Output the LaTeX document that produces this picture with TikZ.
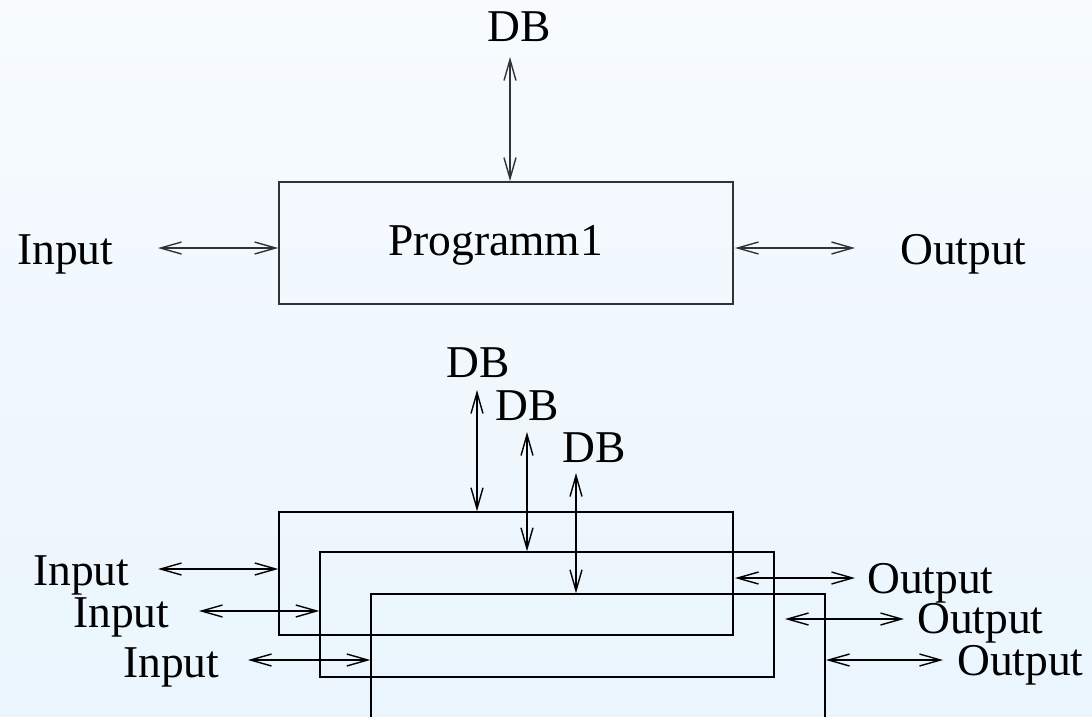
\documentclass[tikz,border=0pt]{standalone}
\usepackage{fontspec}
\setmainfont{Liberation Serif}
\usetikzlibrary{arrows.meta}
\definecolor{bgtop}{HTML}{F7FBFE}
\definecolor{bgbot}{HTML}{EAF5FD}
\definecolor{boxgrey}{HTML}{333333}
\tikzset{
  lbl/.style={anchor=base west, inner sep=0pt, font=\fontsize{45.5}{55}\selectfont},
  bigbox/.style={draw=boxgrey, line width=1.7pt, minimum width=454pt, minimum height=122pt, inner sep=0pt},
  smallbox/.style={draw=black, line width=1.4pt, minimum width=454pt, inner sep=0pt},
  dbl/.style={line width=1.4pt, {Straight Barb[length=21pt,width=12pt]}-{Straight Barb[length=21pt,width=12pt]}},
}
\begin{document}
\begin{tikzpicture}[x=1pt,y=-1pt]
\useasboundingbox (0,0) rectangle (1092,717);
\fill[top color=bgtop, bottom color=bgbot] (0,0) rectangle (1092,717);
\clip (0,0) rectangle (1092,717);

% ---------- upper diagram ----------
\node[bigbox] (prog) at (506,243) {};
\node[lbl] (progtxt) at (388,255) {Programm1};
\node[lbl] (db) at (487,42) {DB};
\node[lbl] (in) at (17,264) {Input};
\node[lbl] (out) at (900,264) {Output};
\coordinate (dbA) at (510,57);
\coordinate (inA) at (158,248);
\coordinate (outA) at (855,248);
\coordinate (outB) at (735,248);
\draw[dbl, draw=boxgrey] (dbA) -- (dbA |- prog.north);
\draw[dbl, draw=boxgrey] (inA) -- (inA -| prog.west);
\draw[dbl, draw=boxgrey] (outB) -- (outA);

% ---------- lower diagram ----------
\node[smallbox, minimum height=123pt] (p1) at (506,573.5) {};
\node[smallbox, minimum height=125pt] (p2) at (547,614.5) {};
\node[smallbox, minimum height=132pt] (p3) at (598,660) {};

\node[lbl] (db1) at (446,377) {DB};
\node[lbl] (db2) at (495,420) {DB};
\node[lbl] (db3) at (562,462) {DB};
\coordinate (db1A) at (477,390);
\coordinate (db2A) at (527,432);
\coordinate (db3A) at (576,473);
\draw[dbl] (db1A) -- (db1A |- p1.north);
\draw[dbl] (db2A) -- (db2A |- p2.north);
\draw[dbl] (db3A) -- (db3A |- p3.north);

\node[lbl] (in1) at (33,585) {Input};
\node[lbl] (in2) at (73,627) {Input};
\node[lbl] (in3) at (123,677) {Input};
\coordinate (in1A) at (158,569);
\coordinate (in2A) at (199,611);
\coordinate (in3A) at (248,660);
\draw[dbl] (in1A) -- (in1A -| p1.west);
\draw[dbl] (in2A) -- (in2A -| p2.west);
\draw[dbl] (in3A) -- (in3A -| p3.west);

\node[lbl] (out1) at (867,593) {Output};
\node[lbl] (out2) at (917,633) {Output};
\node[lbl] (out3) at (957,675) {Output};
\coordinate (out1A) at (855,578);
\coordinate (out2A) at (904,619);
\coordinate (out3A) at (943,660);
\coordinate (out1B) at (735,578);
\coordinate (out2B) at (785,619);
\coordinate (out3B) at (826,660);
\draw[dbl] (out1B) -- (out1A);
\draw[dbl] (out2B) -- (out2A);
\draw[dbl] (out3B) -- (out3A);
\end{tikzpicture}
\end{document}
